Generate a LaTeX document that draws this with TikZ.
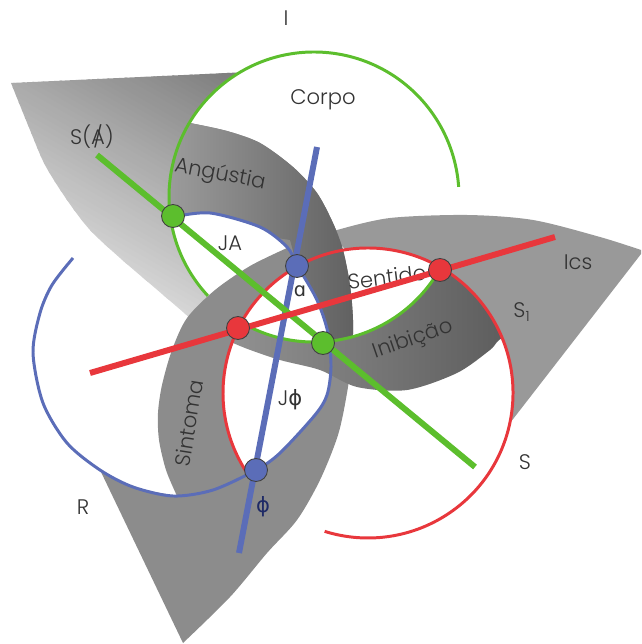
\documentclass[tikz,border=0pt]{standalone}
\usepackage{fontspec}
\IfFontExistsTF{Poppins Light}{\setmainfont{Poppins Light}}{\setmainfont{Poppins}}
\newfontfamily\greekfont{DejaVu Sans}
\definecolor{ringG}{HTML}{5CBE2D}
\definecolor{ringR}{HTML}{E8373C}
\definecolor{ringB}{HTML}{5B6DB8}
\definecolor{phiblue}{HTML}{1E2A66}
\tikzset{
  ring/.style={line width=1.7pt},
  axisline/.style={line width=3.4pt},
  knot/.style={circle,draw=black!75,line width=0.5pt,minimum size=0.46cm,inner sep=0pt},
  lbl/.style={font=\fontsize{12}{14}\selectfont,text=black!80},
}
\def\wedgeApath{(11,83) -- (239.8,72.4) arc[start angle=239.2, end angle=137.1, radius=145] -- (190,318)
  -- plot[smooth] coordinates {(190,318) (155,288) (120,258) (90,230) (67,200) (45,165) (30,130) (11,83)} -- cycle}
\def\bluering{plot[smooth cycle] coordinates {(173,217) (210,213) (260,227) (287,247) (297,265) (317,300) (328,333) (331,367) (327,395) (315,415) (280,453) (256,470) (213,490) (173,496) (133,487) (100,470) (67,443) (43,403) (33,353) (40,313) (52,285) (73,258) (118,231)}}
\def\fieldRpath{(190,123) -- plot[smooth] coordinates {(190,123) (227,131) (260,143) (293,167) (317,193) (333,223) (343,250) (350,285) (353,320) (352,355) (347,393) (338,435) (320,480) (297,520) (267,553) (230,597) (183,643)}
  -- (101,472) -- plot[smooth] coordinates {(101,472) (133,487) (177,496)}
  -- plot[smooth] coordinates {(177,496) (166,470) (159,440) (158,413) (162,385) (172,350) (187,318) (215,290) (250,266) (287,248)}
  -- plot[smooth] coordinates {(287,248) (260,227) (210,213) (173,217)}
  -- (170.3,216.4) arc[start angle=172.3, end angle=210.8, radius=145] -- cycle}
\begin{document}
\begin{tikzpicture}[x=0.02cm,y=-0.02cm]
\useasboundingbox (0,0) rectangle (641,644);
% fields
\begin{scope}
\clip \wedgeApath;
\foreach \k in {0,...,50} {
  \pgfmathsetmacro{\ta}{-195+5*\k}
  \pgfmathsetmacro{\tb}{\ta+6}
  \pgfmathsetmacro{\gv}{14+0.75*\k}
  \fill[black!\gv] ({0.5*\ta-348},{-0.87*\ta-200}) -- ({0.5*\ta+348},{-0.87*\ta+200})
    -- ({0.5*\tb+348},{-0.87*\tb+200}) -- ({0.5*\tb-348},{-0.87*\tb-200}) -- cycle;
}
\end{scope}
\fill[black!40] (330,234) -- plot[smooth] coordinates {(330,234) (337,230) (390,218) (467,215) (533,220) (600,237) (641,250)}
  -- (641,254) -- (510,423) arc[start angle=12, end angle=-99, radius=145] -- cycle;
\fill[black!45] \fieldRpath;
\begin{scope}
\clip \fieldRpath;
\clip (160,100) -- (370,100) -- (370,350) -- (320,350) -- (290,240) -- (160,220) -- cycle;
\shade[left color=black!38, right color=black!64] (160,100) rectangle (370,350);
\end{scope}
\begin{scope}
\clip (368,393) circle[radius=145];
\clip \bluering;
\fill[white] (0,0) rectangle (641,644);
\end{scope}
\begin{scope}
\clip (368,393) circle[radius=145];
\shade[left color=black!42, right color=black!66] (230.8,315.8) arc[start angle=125, end angle=25, radius=145]
  -- (540,280) -- (540,335)
  -- plot[smooth] coordinates {(540,335) (503,338) (490,350) (457,373) (407,390) (357,387) (320,370) (280,360) (245,348) (215,335)} -- cycle;
\end{scope}
% rings
\draw[ring, ringB] plot[smooth] coordinates {(173,217) (210,213) (260,227) (287,247) (297,265) (317,300) (328,333) (331,367) (327,395) (315,415) (280,453) (256,470) (213,490) (173,496) (133,487) (100,470) (67,443) (43,403) (33,353) (40,313) (52,285) (73,258)};
\draw[ring, ringG] (314,197) ++(-223:145) arc[start angle=-223, end angle=-4, radius=145];
\draw[ring, ringG] (314,197) ++(120:145) arc[start angle=120, end angle=30, radius=145];
\draw[ring, ringR] (368,393) ++(145.5:145) arc[start angle=145.5, end angle=467.4, radius=145];
% labels
\node[lbl] (labI) at (286,18) {I};
\node[lbl] (labCorpo) at (323,100) {Corpo};
\node[lbl] (labSA) at (92,137) {S(\ooalign{A\cr\hidewidth/\hidewidth})};
\node[lbl, rotate=-11] (labAng) at (220,175) {Angústia};
\node[lbl] (labJA) at (230,243) {JA};
\node[lbl] (laba) at (300,291) {\greekfont\fontsize{11}{13}\selectfont ɑ};
\node[lbl, rotate=7] (labSent) at (387,277) {Sentido};
\node[lbl, rotate=19] (labInib) at (413,340) {Inibição};
\node[lbl] (labIcs) at (578,262) {Ics};
\node[lbl] (labS1) at (522,312) {S\textsubscript{1}};
\node[lbl] (labS) at (525,462) {S};
\node[lbl] (labR) at (83,507) {R};
\node[lbl, rotate=81] (labSint) at (189,423) {Sintoma};
\node[lbl] (labJphi) at (290,400) {J{\greekfont ϕ}};
\node[lbl, text=phiblue] (labphi) at (263,507) {\greekfont ϕ};
% axes through the knots
\coordinate (bTop) at (317,147);
\coordinate (bBot) at (239,553);
\coordinate (gTop) at (97,155);
\coordinate (gBot) at (475,467);
\coordinate (rLeft) at (90,373);
\coordinate (rRight) at (555,237);
\draw[axisline, ringB] (bTop) -- (bBot);
\draw[axisline, ringG] (gTop) -- (gBot);
\draw[axisline, ringR] (rLeft) -- (rRight);
\node[knot, fill=ringG] (g1) at (173,216) {};
\node[knot, fill=ringG] (g2) at (323,343) {};
\node[knot, fill=ringR] (r1) at (238,328) {};
\node[knot, fill=ringR] (r2) at (440,270) {};
\node[knot, fill=ringB] (b1) at (297,266) {};
\node[knot, fill=ringB] (b2) at (256,470) {};
\end{tikzpicture}
\end{document}
